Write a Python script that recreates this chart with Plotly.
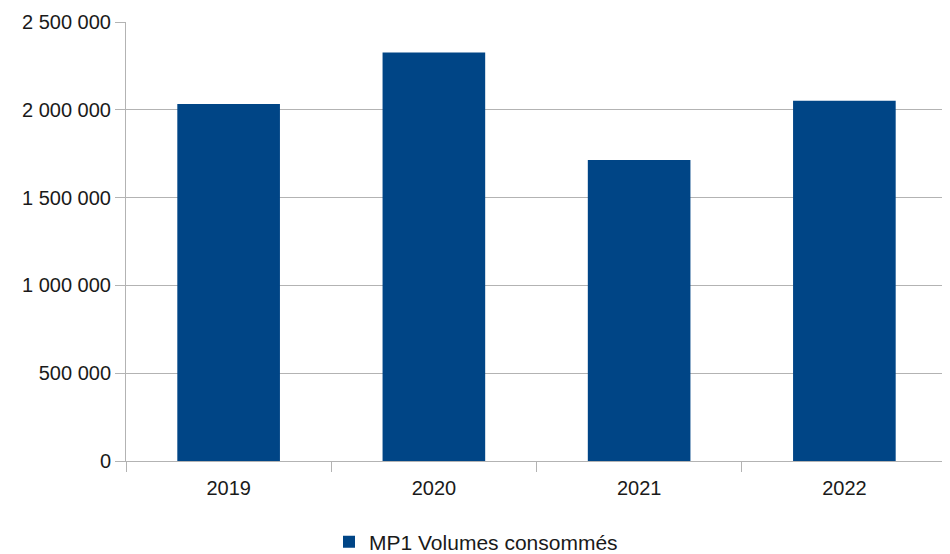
import plotly.graph_objects as go

years = ["2019", "2020", "2021", "2022"]
volumes = [2033000, 2327000, 1714000, 2052000]
series_name = "MP1 Volumes consommés"
y_ticks = [0, 500000, 1000000, 1500000, 2000000, 2500000]

FONT = "Liberation Sans, Arial, sans-serif"
GRID = "#b3b3b3"

# page body has an 8px margin: compensate so the figure fills the 950x554 window
W, H = 942, 546

fig = go.Figure(
    go.Bar(
        x=years,
        y=volumes,
        name=series_name,
        marker=dict(color="#004586", line=dict(width=0)),
        showlegend=True,
    )
)

fig.update_layout(
    width=W,
    height=H,
    margin=dict(l=118, r=3, t=14, b=93, autoexpand=False),
    paper_bgcolor="white",
    plot_bgcolor="white",
    bargap=0.5,
    separators=", ",
    font=dict(family=FONT, size=20, color="#1a1a1a"),
    showlegend=True,
    legend=dict(
        orientation="h",
        xref="container",
        yref="container",
        x=321 / W,
        xanchor="left",
        y=(H - 534) / H,
        yanchor="middle",
        font=dict(family=FONT, size=21, color="#1a1a1a"),
        itemwidth=30,
    ),
    xaxis=dict(
        type="category",
        automargin=False,
        showline=True,
        linecolor=GRID,
        linewidth=1,
        ticks="outside",
        tickson="boundaries",
        ticklen=10,
        tickcolor=GRID,
        showgrid=False,
        ticklabelstandoff=9,
        tickfont=dict(family=FONT, size=20, color="#1a1a1a"),
    ),
    yaxis=dict(
        range=[0, 2500000],
        tickvals=y_ticks,
        tickformat=",d",
        automargin=False,
        showline=True,
        mirror=True,
        linecolor=GRID,
        linewidth=1,
        ticks="outside",
        ticklen=10,
        tickcolor=GRID,
        showgrid=True,
        gridcolor=GRID,
        gridwidth=1,
        zeroline=False,
        ticklabelstandoff=0,
        tickfont=dict(family=FONT, size=20, color="#1a1a1a"),
    ),
)

fig.write_html("out.html")
